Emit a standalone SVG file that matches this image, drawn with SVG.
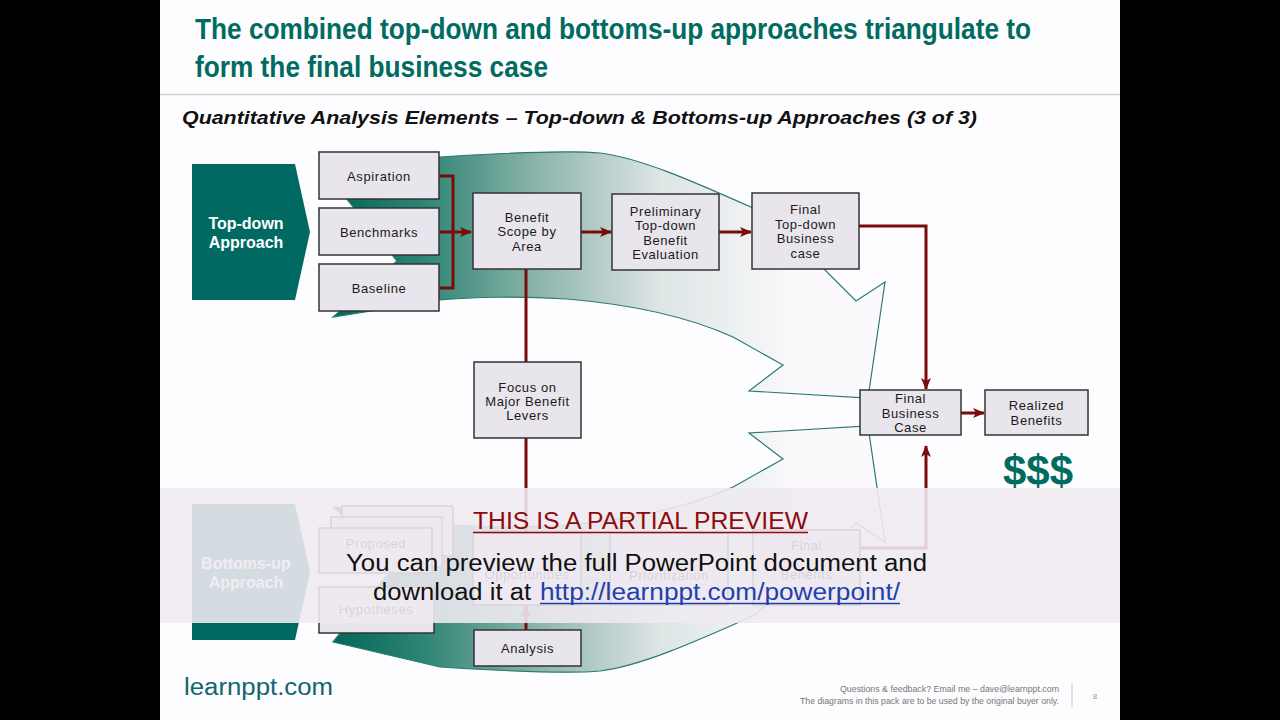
<svg xmlns="http://www.w3.org/2000/svg" width="1280" height="720" viewBox="0 0 1280 720">
<style>
.box{fill:#e9e5ec;stroke:#333;stroke-width:1.5}
.bt{font-family:"Liberation Sans",Arial,sans-serif;font-size:13px;fill:#1a1a1a;text-anchor:middle;letter-spacing:0.6px}
.pt{font-family:"Liberation Sans",Arial,sans-serif;font-size:16px;font-weight:bold;fill:#fff;text-anchor:middle}
.con{fill:none;stroke:#7a0b0b;stroke-width:3}
.arr{fill:url(#g);stroke:#2b7b6f;stroke-width:1.2}
.pent{fill:#006a62}
</style>
<defs>
<linearGradient id="g" gradientUnits="userSpaceOnUse" x1="330" y1="0" x2="800" y2="0">
<stop offset="0" stop-color="#00665a"/>
<stop offset="0.2" stop-color="#2e8574"/>
<stop offset="0.45" stop-color="#8fb5ac"/>
<stop offset="0.7" stop-color="#dde5e5"/>
<stop offset="1" stop-color="#fbf9fc"/>
</linearGradient>
<marker id="ah" viewBox="0 0 12 10" markerWidth="12" markerHeight="10" markerUnits="userSpaceOnUse" refX="11" refY="5" orient="auto">
<path d="M0,0 L12,5 L0,10 L3,5 z" fill="#7a0b0b"/>
</marker>
<path id="swoosh" d="M333,182 L440,157 C520,152 570,150 600,153 C640,158 690,180 753,208 L825,270 L856,301 L885,282 L868,398 L749,391 L783,365 L733,337 C700,322 650,306 567,299 C520,296 470,297 440,300 L333,317 L397,261 Z"/>
</defs>
<rect x="0" y="0" width="1280" height="720" fill="#000"/>
<rect x="160" y="0" width="960" height="720" fill="#fdfcfe"/>

<g id="title">
<text x="195" y="39" font-family="'Liberation Sans Narrow','Liberation Sans',Arial,sans-serif" font-size="30" font-weight="bold" fill="#006b5f" textLength="836" lengthAdjust="spacingAndGlyphs">The combined top-down and bottoms-up approaches triangulate to</text>
<text x="195" y="77" font-family="'Liberation Sans Narrow','Liberation Sans',Arial,sans-serif" font-size="30" font-weight="bold" fill="#006b5f" textLength="353" lengthAdjust="spacingAndGlyphs">form the final business case</text>
<line x1="160" y1="94.5" x2="1120" y2="94.5" stroke="#cfcfcf" stroke-width="1.5"/>
<text x="182" y="124" font-family="'Liberation Sans Narrow','Liberation Sans',Arial,sans-serif" font-size="19" font-weight="bold" font-style="italic" fill="#111" textLength="795" lengthAdjust="spacingAndGlyphs">Quantitative Analysis Elements – Top-down &amp; Bottoms-up Approaches (3 of 3)</text>
</g>

<g id="swooshes">
<use href="#swoosh" class="arr"/>
<use href="#swoosh" class="arr" transform="matrix(1,0,0,-1,0,824)"/>
</g>

<g id="topdown">
<path class="pent" d="M192,164 H295 L310,232 L295,300 H192 Z"/>
<text class="pt" x="246" y="229">Top-down</text>
<text class="pt" x="246" y="248">Approach</text>
</g>
<g id="bottomsup">
<path class="pent" d="M192,504 H295 L310,572 L295,640 H192 Z"/>
<text class="pt" x="246" y="569">Bottoms-up</text>
<text class="pt" x="246" y="588">Approach</text>
</g>

<g id="connectors">
<path class="con" d="M439,176 H453 V288 H439"/>
<path class="con" d="M440,232 H471" marker-end="url(#ah)"/>
<path class="con" d="M581,232 H611" marker-end="url(#ah)"/>
<path class="con" d="M719,232 H751" marker-end="url(#ah)"/>
<path class="con" d="M859,226 H926 V389" marker-end="url(#ah)"/>
<path class="con" d="M526,269 V362"/>
<path class="con" d="M526,438 V533"/>
<path class="con" d="M526,630 V606" marker-end="url(#ah)"/>
<path class="con" d="M961,413 H984" marker-end="url(#ah)"/>
<path class="con" d="M860,548 H926 V446" marker-end="url(#ah)"/>
</g>

<g id="aspiration"><rect class="box" x="319" y="152" width="120" height="47"/><text class="bt" x="379" y="180.5">Aspiration</text></g>
<g id="benchmarks"><rect class="box" x="319" y="208" width="120" height="47"/><text class="bt" x="379" y="236.5">Benchmarks</text></g>
<g id="baseline"><rect class="box" x="319" y="264" width="120" height="47"/><text class="bt" x="379" y="292.5">Baseline</text></g>
<g id="benefit-scope"><rect class="box" x="473" y="193" width="108" height="76"/><text class="bt" x="527" y="221.5">Benefit</text><text class="bt" x="527" y="235.5">Scope by</text><text class="bt" x="527" y="250.5">Area</text></g>
<g id="preliminary"><rect class="box" x="612" y="194" width="107" height="76"/><text class="bt" x="665.5" y="215.5">Preliminary</text><text class="bt" x="665.5" y="230">Top-down</text><text class="bt" x="665.5" y="244.5">Benefit</text><text class="bt" x="665.5" y="258.5">Evaluation</text></g>
<g id="final-topdown"><rect class="box" x="752" y="193" width="107" height="76"/><text class="bt" x="805.5" y="213.5">Final</text><text class="bt" x="805.5" y="228.5">Top-down</text><text class="bt" x="805.5" y="242.5">Business</text><text class="bt" x="805.5" y="257.5">case</text></g>
<g id="focus"><rect class="box" x="474" y="362" width="107" height="76"/><text class="bt" x="527.5" y="391.5">Focus on</text><text class="bt" x="527.5" y="405.5">Major Benefit</text><text class="bt" x="527.5" y="419.5">Levers</text></g>
<g id="final-business-case"><rect class="box" x="860" y="390" width="101" height="45"/><text class="bt" x="910.5" y="402.5">Final</text><text class="bt" x="910.5" y="417.5">Business</text><text class="bt" x="910.5" y="431.5">Case</text></g>
<g id="realized"><rect class="box" x="985" y="390" width="103" height="45"/><text class="bt" x="1036.5" y="409.5">Realized</text><text class="bt" x="1036.5" y="424.5">Benefits</text></g>
<g id="dollars"><text x="1038" y="485" font-family="'Liberation Sans',Arial,sans-serif" font-size="42" font-weight="bold" fill="#006b5f" text-anchor="middle">$$$</text></g>

<g id="proposed"><rect class="box" x="342" y="506" width="111" height="50"/><rect class="box" x="331" y="517" width="111" height="50"/><rect class="box" x="319" y="528" width="113" height="45"/><text class="bt" x="376" y="548">Proposed</text></g>
<g id="hypotheses"><rect class="box" x="319" y="587" width="115" height="46"/><text class="bt" x="376" y="614">Hypotheses</text></g>
<g id="opportunities"><rect class="box" x="473" y="533" width="108" height="72"/><text class="bt" x="527" y="579">Opportunities</text></g>
<g id="prioritization"><rect class="box" x="610" y="533" width="118" height="72"/><text class="bt" x="669" y="580">Prioritization</text></g>
<g id="final-benefits"><rect class="box" x="753" y="530" width="107" height="75"/><text class="bt" x="806.5" y="550">Final</text><text class="bt" x="806.5" y="579">Benefits</text></g>
<g id="analysis"><rect class="box" x="474" y="630" width="107" height="36"/><text class="bt" x="527.5" y="652.5">Analysis</text></g>

<g id="preview-overlay">
<rect x="160" y="488" width="960" height="135" fill="#eeeaf0" fill-opacity="0.89"/>
<text x="473" y="529" font-family="'Liberation Sans',Arial,sans-serif" font-size="23" fill="#8e0b0b" textLength="335" lengthAdjust="spacingAndGlyphs">THIS IS A PARTIAL PREVIEW</text>
<line x1="473" y1="532.5" x2="808" y2="532.5" stroke="#8e0b0b" stroke-width="1.6"/>
<text x="346" y="571" font-family="'Liberation Sans',Arial,sans-serif" font-size="23" fill="#111" textLength="581" lengthAdjust="spacingAndGlyphs">You can preview the full PowerPoint document and</text>
<text x="373" y="600" font-family="'Liberation Sans',Arial,sans-serif" font-size="23" fill="#111" textLength="158" lengthAdjust="spacingAndGlyphs">download it at</text>
<text x="540" y="600" font-family="'Liberation Sans',Arial,sans-serif" font-size="23" fill="#1f3fae" textLength="360" lengthAdjust="spacingAndGlyphs">http://learnppt.com/powerpoint/</text>
<line x1="540" y1="603.5" x2="900" y2="603.5" stroke="#1f3fae" stroke-width="1.6"/>
</g>

<g id="footer">
<text x="184" y="695" font-family="'Liberation Sans Narrow','Liberation Sans',Arial,sans-serif" font-size="23" fill="#11656f" textLength="149" lengthAdjust="spacingAndGlyphs">learnppt.com</text>
<text x="1059" y="692" font-family="'Liberation Sans Narrow','Liberation Sans',Arial,sans-serif" font-size="9" fill="#777" text-anchor="end" textLength="219" lengthAdjust="spacingAndGlyphs">Questions &amp; feedback?  Email me – dave@learnppt.com</text>
<text x="1059" y="704" font-family="'Liberation Sans Narrow','Liberation Sans',Arial,sans-serif" font-size="9" fill="#777" text-anchor="end" textLength="259" lengthAdjust="spacingAndGlyphs">The diagrams in this pack are to be used by the original buyer only.</text>
<line x1="1072" y1="683" x2="1072" y2="707" stroke="#c8c8c8" stroke-width="1"/>
<text x="1095" y="699" font-family="'Liberation Sans',Arial,sans-serif" font-size="8" fill="#999" text-anchor="middle">8</text>
</g>
</svg>
